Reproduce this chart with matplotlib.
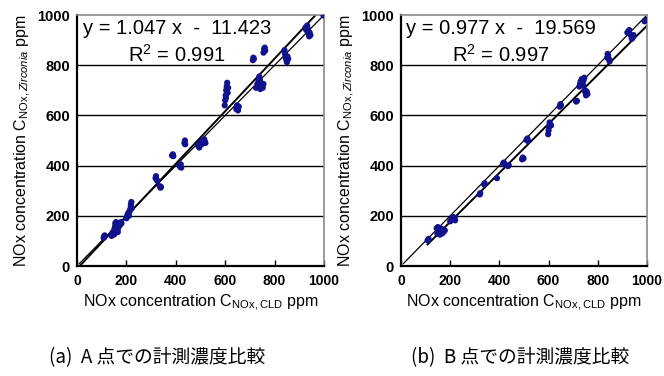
import numpy as np
import matplotlib
matplotlib.use("Agg")
import matplotlib.pyplot as plt

plt.rcParams["font.family"] = ["Liberation Sans", "DejaVu Sans"]
plt.rcParams["mathtext.fontset"] = "custom"
plt.rcParams["mathtext.rm"] = "Liberation Sans"
plt.rcParams["mathtext.it"] = "Liberation Sans:italic"

# point A: CLD vs zirconia sensor NOx [ppm]
A_CLD = [108, 110, 112, 109,
         140, 142, 145, 148, 150, 152, 155, 155, 158, 160, 162, 165, 168, 170, 172, 175, 178, 180, 165, 150,
         200, 203, 205, 208, 210, 212, 215, 218, 220, 218, 222,
         318, 320, 322, 325, 335, 338, 340,
         385, 388, 390,
         415, 418, 422, 420,
         435, 437, 438,
         490, 495, 498, 500, 505, 510, 515, 518, 520,
         598, 600, 602, 604, 606, 608, 610, 603, 607, 612,
         645, 648, 650, 652, 655,
         712, 714, 716,
         725, 730, 735, 738, 740, 742, 745, 748, 752, 755, 740,
         755, 758, 760, 762,
         840, 842, 845, 848, 850, 852, 855,
         925, 928, 932, 935, 938, 940, 942, 945, 935,
         998]
A_ZR = [112, 118, 122, 115,
        120, 128, 135, 130, 140, 150, 160, 170, 175, 165, 150, 145, 155, 160, 170, 165, 175, 170, 135, 125,
        190, 198, 205, 212, 200, 215, 225, 245, 255, 235, 230,
        350, 358, 345, 340, 318, 312, 315,
        440, 445, 438,
        400, 395, 392, 405,
        490, 500, 485,
        480, 472, 488, 495, 485, 498, 505, 495, 490,
        640, 660, 680, 700, 715, 730, 690, 670, 705, 710,
        625, 640, 630, 620, 635,
        820, 830, 825,
        710, 725, 740, 755, 715, 705, 730, 720, 710, 725, 745,
        850, 865, 870, 858,
        860, 845, 830, 820, 812, 835, 825,
        950, 940, 958, 935, 925, 915, 930, 920, 945,
        998]

# point B
B_CLD = [108, 112,
         145, 150, 152, 155, 158, 160, 162, 165, 168, 170, 175, 178, 148,
         200, 205, 208, 212, 215, 218, 220,
         322, 320,
         338, 340,
         390,
         415, 418, 420,
         435, 438,
         492, 495, 498,
         510, 514, 516,
         598, 600, 602, 604, 606, 610,
         645, 648, 650,
         712, 715,
         725, 728, 730, 735, 738, 740, 742, 745, 748, 750, 752, 755, 758,
         838, 840, 842, 845, 848,
         920, 925, 930, 935, 938, 942, 945, 928,
         990, 995]
B_ZR = [102, 108,
        150, 155, 145, 130, 125, 140, 150, 135, 130, 145, 138, 142, 128,
        178, 185, 190, 195, 188, 192, 182,
        290, 285,
        325, 330,
        350,
        408, 412, 405,
        398, 402,
        425, 432, 428,
        502, 508, 498,
        525, 540, 555, 572, 565, 560,
        635, 645, 640,
        655, 658,
        715, 725, 735, 745, 730, 720, 740, 750, 700, 690, 680, 695, 685,
        830, 845, 838, 825, 815,
        930, 935, 925, 918, 905, 910, 920, 940,
        975, 980]

FIT_A = (1.047, -11.423, 0.991)
FIT_B = (0.977, -19.569, 0.997)
CAPTIONS = ["(a)  A 点での計測濃度比較", "(b)  B 点での計測濃度比較"]

DOT = "#12128c"


def panel(ax, x, y, fit, x_fit0):
    slope, icpt, r2 = fit
    ax.set_xlim(0, 1000)
    ax.set_ylim(0, 1000)
    for g in (200, 400, 600, 800):
        ax.axhline(g, color="black", lw=1.0, zorder=1)
    # 1:1 line and regression line
    ax.plot([10, 1000], [10, 1000], color="black", lw=0.9, zorder=2)
    xf = np.array([x_fit0, 1000.0])
    ax.plot(xf, slope * xf + icpt, color="black", lw=1.4, zorder=2)
    ax.scatter(x, y, s=20, color=DOT, edgecolors="none", zorder=3)

    ax.set_xticks(range(0, 1001, 200))
    ax.set_yticks(range(0, 1001, 200))
    ax.tick_params(axis="x", direction="in", length=4, width=1, pad=6,
                   labelsize=10)
    ax.tick_params(axis="y", length=0, pad=5, labelsize=10.5)
    for lab in ax.get_xticklabels() + ax.get_yticklabels():
        lab.set_fontweight("bold")
    for s in ("left", "bottom"):
        ax.spines[s].set_color("black")
        ax.spines[s].set_linewidth(1.6)
    for s in ("top", "right"):
        ax.spines[s].set_color("#8a8a8a")
        ax.spines[s].set_linewidth(1.2)

    ax.text(0.405, 0.945, "y = %.3f x  -  %.3f" % (slope, -icpt),
            transform=ax.transAxes, ha="center", va="center", fontsize=14.5)
    ax.text(0.405, 0.84, "R$^{2}$ = %.3f" % r2,
            transform=ax.transAxes, ha="center", va="center", fontsize=14.5)
    ax.set_xlabel(r"NOx concentration C$_{\mathregular{NOx,CLD}}$ ppm",
                  fontsize=11.5, labelpad=3)
    ax.set_ylabel(r"NOx concentration C$_{\mathregular{NOx,}\mathit{Zirconia}}$ ppm",
                  fontsize=11.5, labelpad=3)


fig = plt.figure(figsize=(6.64, 3.76), dpi=100)
ax1 = fig.add_axes([77 / 664, 110 / 376, 247 / 664, 251 / 376])
ax2 = fig.add_axes([401 / 664, 110 / 376, 246 / 664, 251 / 376])
panel(ax1, A_CLD, A_ZR, FIT_A, 15)
panel(ax2, B_CLD, B_ZR, FIT_B, 108)

fig.text(157 / 664, 1 - 358 / 376, CAPTIONS[0], ha="center", va="center",
         fontsize=13.5, family=["Noto Sans CJK JP", "DejaVu Sans"])
fig.text(520 / 664, 1 - 358 / 376, CAPTIONS[1], ha="center", va="center",
         fontsize=13.5, family=["Noto Sans CJK JP", "DejaVu Sans"])

fig.savefig("out.png", dpi=100)
